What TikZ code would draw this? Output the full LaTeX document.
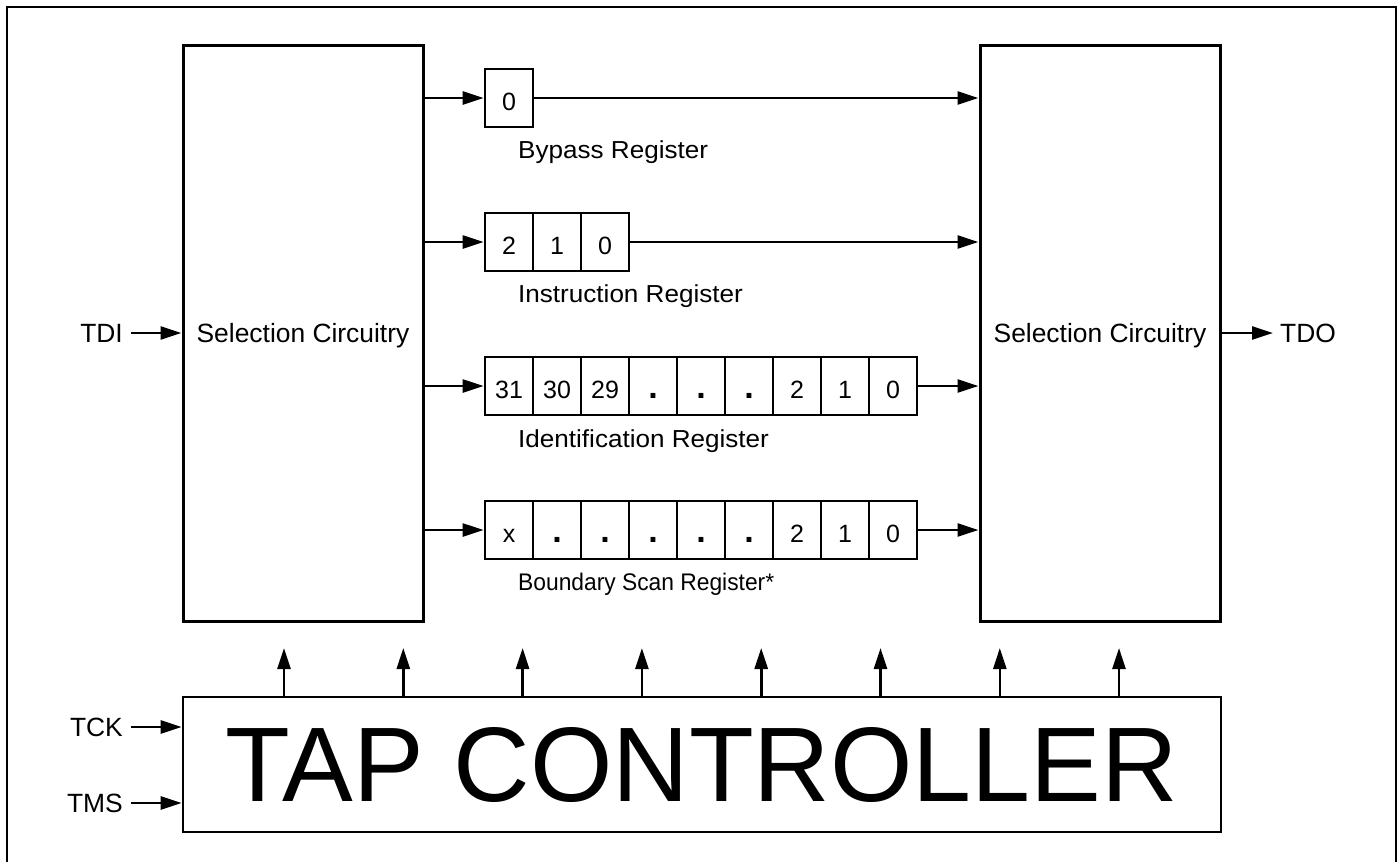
\documentclass[tikz,border=0pt]{standalone}
\usepackage{fontspec}
\setmainfont{Liberation Sans}
\usepackage{graphicx}
\usetikzlibrary{arrows.meta}
\newcommand{\widelabel}[1]{\scalebox{1.06}[1]{#1}}
\begin{document}
\begin{tikzpicture}[x=1pt,y=-1pt,
  selbox/.style={draw, line width=3pt, inner sep=0pt, minimum width=240pt, minimum height=576pt, text depth=0pt, font=\fontsize{26.4}{30}\selectfont},
  tapbox/.style={draw, line width=2.6pt, inner sep=0pt, minimum width=1038pt, minimum height=135pt, font=\fontsize{106}{106}\selectfont},
  cell/.style={draw, line width=2.8pt, minimum width=48pt, minimum height=58pt, inner sep=0pt, text height=40pt, text depth=16pt, font=\fontsize{25}{26}\selectfont},
  dotc/.style={cell, font=\fontsize{34}{34}\bfseries},
  reglabel/.style={anchor=base west, inner sep=0pt, font=\fontsize{24.6}{28}\selectfont},
  pin/.style={inner sep=0pt, font=\fontsize{26.4}{30}\selectfont},
  arr/.style={-{Triangle[length=21pt,width=13pt]}, line width=2.6pt},
  frame/.style={line width=2.8pt}
]
\useasboundingbox (0,0) rectangle (1399,862);
% outer frame (open at bottom)
\draw[frame] (7,862) -- (7,7) -- (1396,7) -- (1396,862);

% selection circuitry boxes
\node[selbox] (lsel) at (303,333) {Selection Circuitry};
\node[selbox] (rsel) at (1100,333) {Selection Circuitry};

% TAP controller
\node[tapbox] (tap) at (702,764.5) {TAP CONTROLLER};

% Bypass register
\node[cell] (bp0) at (509,98) {0};
\node[reglabel] (bpl) at (518,158) {\widelabel{Bypass Register}};

% Instruction register
\node[cell] (ir2) at (509,242) {2};
\node[cell] (ir1) at (557,242) {1};
\node[cell] (ir0) at (605,242) {0};
\node[reglabel] (irl) at (518,302) {\widelabel{Instruction Register}};

% Identification register
\node[cell] (id31) at (509,386) {31};
\node[cell] (id30) at (557,386) {30};
\node[cell] (id29) at (605,386) {29};
\node[dotc] (idd1) at (653,386) {.};
\node[dotc] (idd2) at (701,386) {.};
\node[dotc] (idd3) at (749,386) {.};
\node[cell] (id2) at (797,386) {2};
\node[cell] (id1) at (845,386) {1};
\node[cell] (id0) at (893,386) {0};
\node[reglabel] (idl) at (518,447) {\widelabel{Identification Register}};

% Boundary scan register
\node[cell] (bsx) at (509,530) {x};
\node[dotc] (bsd1) at (557,530) {.};
\node[dotc] (bsd2) at (605,530) {.};
\node[dotc] (bsd3) at (653,530) {.};
\node[dotc] (bsd4) at (701,530) {.};
\node[dotc] (bsd5) at (749,530) {.};
\node[cell] (bs2) at (797,530) {2};
\node[cell] (bs1) at (845,530) {1};
\node[cell] (bs0) at (893,530) {0};
\node[reglabel, font=\fontsize{24}{28}\selectfont] (bsl) at (518,590) {\scalebox{0.95}[1]{Boundary Scan Register*}};

% inputs from left selection
\draw[arr] (lsel.east |- bp0.west) -- (bp0.west);
\draw[arr] (lsel.east |- ir2.west) -- (ir2.west);
\draw[arr] (lsel.east |- id31.west) -- (id31.west);
\draw[arr] (lsel.east |- bsx.west) -- (bsx.west);

% outputs to right selection
\draw[arr] (bp0.east) -- (bp0.east -| rsel.west);
\draw[arr] (ir0.east) -- (ir0.east -| rsel.west);
\draw[arr] (id0.east) -- (id0.east -| rsel.west);
\draw[arr] (bs0.east) -- (bs0.east -| rsel.west);

% TDI / TDO
\node[pin, anchor=east] (tdi) at (123,333) {TDI};
\coordinate (tdis) at (131,333);
\draw[arr] (tdis) -- (lsel.west |- tdis);
\node[pin, anchor=west] (tdo) at (1280,333) {TDO};
\coordinate (tdoe) at (1273,333);
\draw[arr] (rsel.east |- tdoe) -- (tdoe);

% TCK / TMS
\node[pin, anchor=east] (tck) at (123,727) {TCK};
\coordinate (tcks) at (131,727);
\draw[arr] (tcks) -- (tap.west |- tcks);
\node[pin, anchor=east] (tms) at (123,803) {TMS};
\coordinate (tmss) at (131,803);
\draw[arr] (tmss) -- (tap.west |- tmss);

% control arrows from TAP controller
\foreach \i/\xx in {1/284,2/403.3,3/522.6,4/641.9,5/761.2,6/880.5,7/999.8,8/1119}{
  \coordinate (u\i) at (\xx,648);
  \draw[arr] (tap.north -| u\i) -- (u\i);
}
\end{tikzpicture}
\end{document}
